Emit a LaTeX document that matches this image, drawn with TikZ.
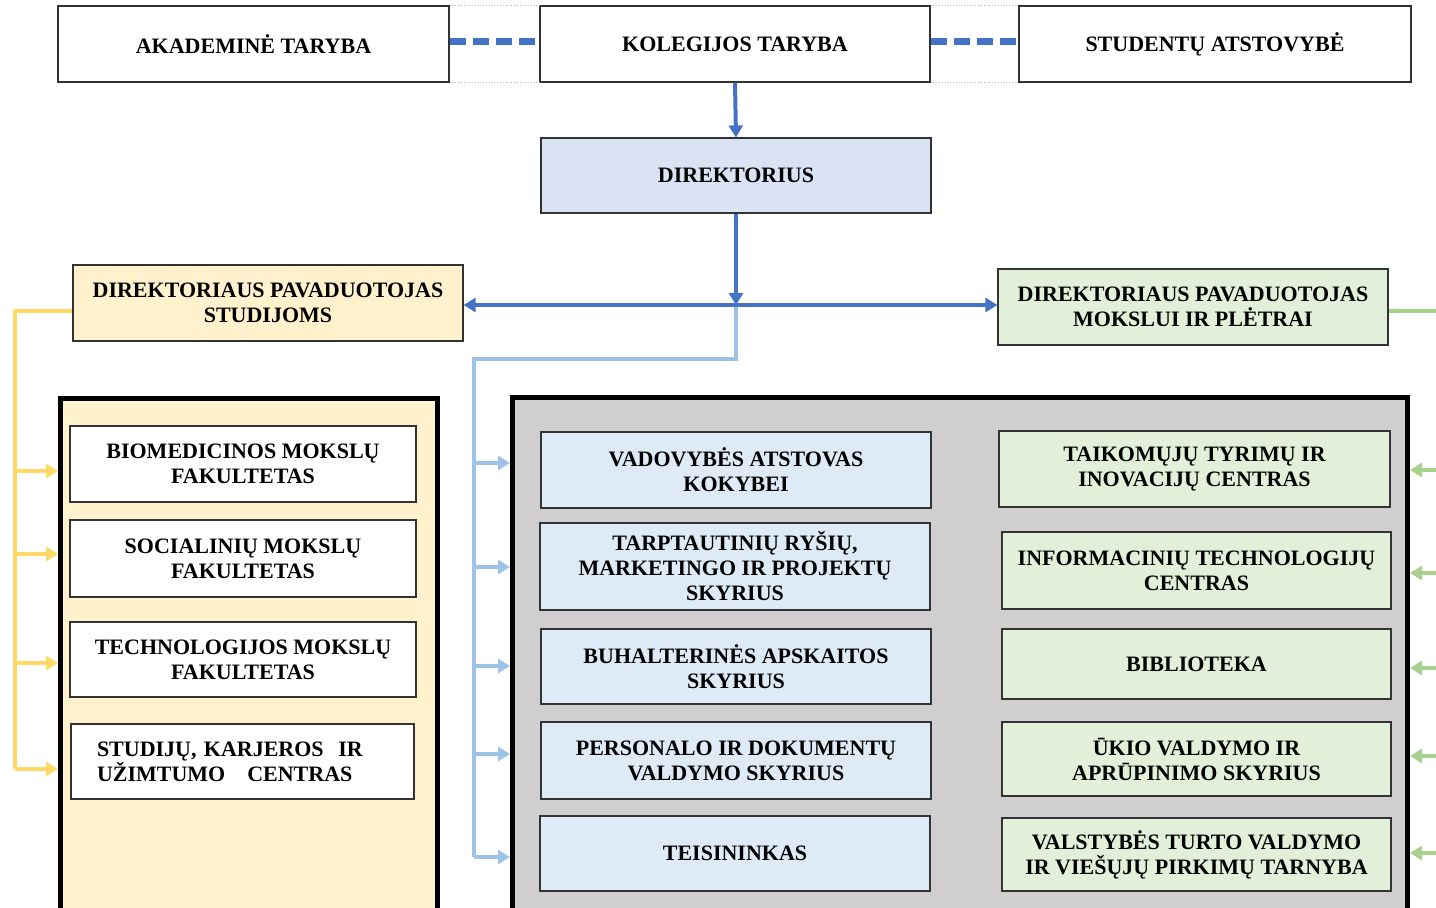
\documentclass[tikz,border=0pt]{standalone}
\usepackage{fontspec}
\setmainfont{Liberation Serif}
\usetikzlibrary{arrows.meta}
\definecolor{mainblue}{HTML}{4472C4}
\definecolor{lightline}{HTML}{9DC3E6}
\definecolor{goldline}{HTML}{FFD966}
\definecolor{greenline}{HTML}{A9D18E}
\definecolor{studfill}{HTML}{FFF2CC}
\definecolor{sciencefill}{HTML}{E2F0D9}
\definecolor{dirfill}{HTML}{DAE3F3}
\definecolor{admfill}{HTML}{DEEBF7}
\definecolor{panelgray}{HTML}{D0CECE}
\tikzstyle{arrow} = [line width=2pt,-{Triangle[width=7pt,length=6pt]}]

\begin{document}
\begin{tikzpicture}[x=0.5pt,y=-0.5pt,
	font=\bfseries\fontsize{11}{12.5}\selectfont,
	unit/.style={rectangle, draw=black!80, line width=0.6pt, align=center, inner sep=2pt},
	board/.style={unit, fill=white, minimum width=195pt, minimum height=38pt},
	panel/.style={rectangle, draw=black, line width=2.5pt}]
	
	\useasboundingbox (0,0) rectangle (1436,907);
	\clip (0,0) rectangle (1436,907);
	
	% councils
	\node[board, minimum width=195.5pt] (aka) at (253.5,44) {AKADEMINĖ TARYBA};
	\node[board] (kol) at (735,44) {KOLEGIJOS TARYBA};
	\node[board, minimum width=196pt] (stu) at (1215,44) {STUDENTŲ ATSTOVYBĖ};
	\node[board, fill=dirfill, minimum height=37.5pt] (dir) at (736,175.5) {DIREKTORIUS};
	
	\draw[gray!60, densely dotted] (aka.north east) -- (kol.north west) (aka.south east) -- (kol.south west);
	\draw[gray!60, densely dotted] (kol.north east) -- (stu.north west) (kol.south east) -- (stu.south west);
	\draw[mainblue, line width=3.5pt, dash pattern=on 8pt off 3.5pt] ([yshift=1.5pt]aka.east) -- ([yshift=1.5pt]kol.west);
	\draw[mainblue, line width=3.5pt, dash pattern=on 8pt off 3.5pt] ([yshift=1.5pt]kol.east) -- ([yshift=1.5pt]stu.west);
	
	% deputies
	\node[board, fill=studfill] (dps) at (268,303) {DIREKTORIAUS PAVADUOTOJAS\\STUDIJOMS};
	\node[board, fill=sciencefill] (dpm) at (1193,307) {DIREKTORIAUS PAVADUOTOJAS\\MOKSLUI IR PLĖTRAI};
	
	% containers
	\node[panel, fill=studfill, minimum width=188.5pt, minimum height=280.75pt] (studcont) at (249,679.25) {};
	\node[panel, fill=panelgray, minimum width=447.5pt, minimum height=281.25pt] (admcont) at (960,678.75) {};
	
	% faculties
	\node[unit, fill=white, minimum width=173pt, minimum height=38pt] (bio) at (243,464) {BIOMEDICINOS MOKSLŲ\\FAKULTETAS};
	\node[unit, fill=white, minimum width=173pt, minimum height=38.5pt] (soc) at (243,558.5) {SOCIALINIŲ MOKSLŲ\\FAKULTETAS};
	\node[unit, fill=white, minimum width=173pt, minimum height=37.5pt] (tech) at (243,659.5) {TECHNOLOGIJOS MOKSLŲ\\FAKULTETAS};
	\node[unit, fill=white, align=left, inner xsep=13pt, text width=145.5pt, minimum height=37.5pt] (kar) at (242.5,761.5) {STUDIJŲ, KARJEROS\ \ IR\\UŽIMTUMO\ \ \ CENTRAS};
	
	% administration
	\node[unit, fill=admfill, minimum width=195pt, minimum height=38pt] (kok) at (736,470) {VADOVYBĖS ATSTOVAS\\KOKYBEI};
	\node[unit, fill=admfill, minimum width=195pt, minimum height=43.5pt] (tarp) at (735,566.5) {TARPTAUTINIŲ RYŠIŲ,\\MARKETINGO IR PROJEKTŲ\\SKYRIUS};
	\node[unit, fill=admfill, minimum width=195pt, minimum height=37.5pt] (buh) at (736,666.5) {BUHALTERINĖS APSKAITOS\\SKYRIUS};
	\node[unit, fill=admfill, minimum width=195pt, minimum height=38.5pt] (pers) at (736,760.5) {PERSONALO IR DOKUMENTŲ\\VALDYMO SKYRIUS};
	\node[unit, fill=admfill, minimum width=195pt, minimum height=37.5pt] (teis) at (735,853.5) {TEISININKAS};
	
	% science units
	\node[unit, fill=sciencefill, minimum width=195.5pt, minimum height=38pt] (tyr) at (1194.5,469) {TAIKOMŲJŲ TYRIMŲ IR\\INOVACIJŲ CENTRAS};
	\node[unit, fill=sciencefill, minimum width=194.5pt, minimum height=38.5pt] (it) at (1196.5,570.5) {INFORMACINIŲ TECHNOLOGIJŲ\\CENTRAS};
	\node[unit, fill=sciencefill, minimum width=194.5pt, minimum height=35pt] (bib) at (1196.5,664) {BIBLIOTEKA};
	\node[unit, fill=sciencefill, minimum width=194.5pt, minimum height=37pt] (ukio) at (1196.5,759) {ŪKIO VALDYMO IR\\APRŪPINIMO SKYRIUS};
	\node[unit, fill=sciencefill, minimum width=194.5pt, minimum height=36.5pt] (vtt) at (1196.5,854.5) {VALSTYBĖS TURTO VALDYMO\\IR VIEŠŲJŲ PIRKIMŲ TARNYBA};
	
	% bus points
	\coordinate (hub) at (736,305);
	\coordinate (lbturn) at (736,359);
	\coordinate (lbcorner) at (474,359);
	\coordinate (ytop) at (15,311);
	\coordinate (gtop) at (1450,311);
	\foreach \y [count=\i] in {463,567,666,754,857} \coordinate (lb\i) at (474,\y);
	\foreach \y [count=\i] in {471,554,663,769} \coordinate (yl\i) at (15,\y);
	\foreach \y [count=\i] in {470,573,668,756,853} \coordinate (gr\i) at (1450,\y);
	
	% light blue branch
	\draw[lightline, line width=2pt] (hub) -- (lbturn) -- (lbcorner) -- (lb5);
	\foreach \i in {1,...,5} \draw[arrow, lightline] (lb\i) -- (lb\i -| admcont.west);
	
	% yellow branch
	\draw[goldline, line width=2pt] (dps.west |- ytop) -- (ytop) -- (yl4);
	\foreach \i in {1,...,4} \draw[arrow, goldline] (yl\i) -- (yl\i -| studcont.west);
	
	% green branch
	\draw[greenline, line width=2pt] (dpm.east |- gtop) -- (gtop) -- (gr5);
	\foreach \i in {1,...,5} \draw[arrow, greenline] (gr\i) -- (gr\i -| admcont.east);
	
	% main blue lines
	\draw[arrow, mainblue] (kol.south) -- (dir.north);
	\draw[arrow, mainblue] (dir.south) -- (hub);
	\draw[arrow, mainblue, {Triangle[width=7pt,length=6pt]}-{Triangle[width=7pt,length=6pt]}] (dps.east |- hub) -- (dpm.west |- hub);
\end{tikzpicture}
\end{document}
